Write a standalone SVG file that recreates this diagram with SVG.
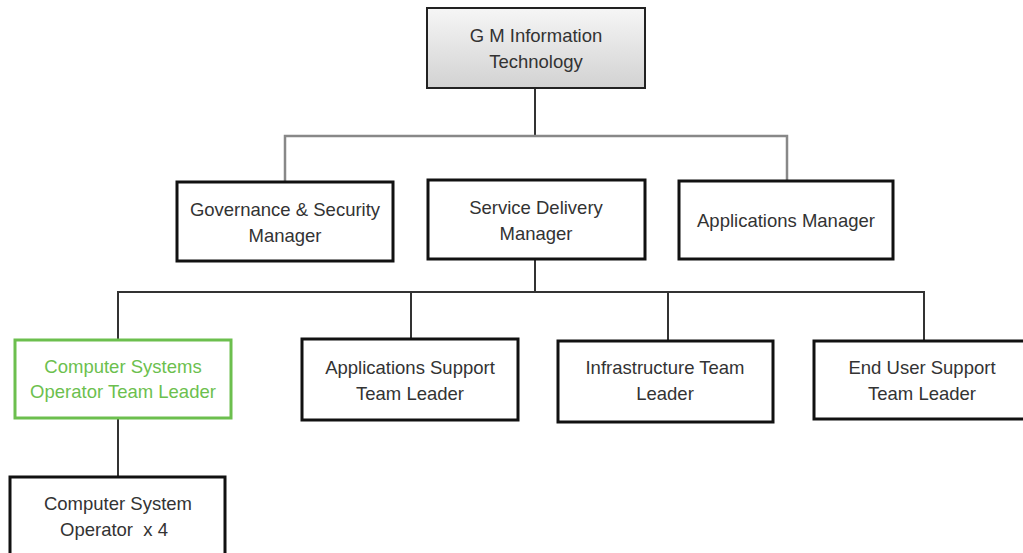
<svg xmlns="http://www.w3.org/2000/svg" width="1023" height="553" viewBox="0 0 1023 553">
<style>
.box{fill:#ffffff;stroke:#111111;stroke-width:3}
.top{fill:url(#g);stroke:#222222;stroke-width:2}
.green{fill:#ffffff;stroke:#6cbf4e;stroke-width:3}
text{font-family:"Liberation Sans",Arial,sans-serif;font-size:18.5px;fill:#333333;text-anchor:middle}
.gt{fill:#6cbf4e}
.c{fill:none;stroke:#333333;stroke-width:2}
.cg{fill:none;stroke:#888888;stroke-width:2.5}
</style>
<defs>
<linearGradient id="g" x1="0" y1="0" x2="0" y2="1">
<stop offset="0" stop-color="#f6f6f6"/>
<stop offset="1" stop-color="#d2d2d2"/>
</linearGradient>
</defs>
<rect x="0" y="0" width="1023" height="553" fill="#ffffff"/>
<g id="connectors">
<path class="c" d="M535 88 V136"/>
<path class="cg" d="M285 181 V136 H787 V181"/>
<path class="c" d="M535 259 V292"/>
<path class="c" d="M118 339 V292 H924 V340"/>
<path class="c" d="M411 292 V339"/>
<path class="c" d="M668 292 V341"/>
<path class="c" d="M118 418 V477"/>
</g>
<g id="gm">
<rect class="top" x="427" y="8" width="218" height="80"/>
<text x="536" y="41.5">G M Information</text>
<text x="536" y="67.5">Technology</text>
</g>
<g id="governance">
<rect class="box" x="177" y="182" width="216" height="79"/>
<text x="285" y="215.5">Governance &amp; Security</text>
<text x="285" y="241.5">Manager</text>
</g>
<g id="service">
<rect class="box" x="428" y="180" width="217" height="79"/>
<text x="536" y="213.5">Service Delivery</text>
<text x="536" y="239.5">Manager</text>
</g>
<g id="appmgr">
<rect class="box" x="679" y="181" width="214" height="78"/>
<text x="786" y="226.5">Applications Manager</text>
</g>
<g id="csotl">
<rect class="green" x="15" y="340" width="216" height="78"/>
<text class="gt" x="123" y="372.5">Computer Systems</text>
<text class="gt" x="123" y="397.5">Operator Team Leader</text>
</g>
<g id="apptl">
<rect class="box" x="302" y="339" width="216" height="81"/>
<text x="410" y="373.5">Applications Support</text>
<text x="410" y="399.5">Team Leader</text>
</g>
<g id="infra">
<rect class="box" x="558" y="341" width="215" height="81"/>
<text x="665" y="373.5">Infrastructure Team</text>
<text x="665" y="399.5">Leader</text>
</g>
<g id="enduser">
<rect class="box" x="814" y="341" width="220" height="78"/>
<text x="922" y="373.5">End User Support</text>
<text x="922" y="399.5">Team Leader</text>
</g>
<g id="cso">
<rect class="box" x="10" y="477" width="215" height="90"/>
<text x="118" y="509.5">Computer System</text>
<text x="114" y="535.5" xml:space="preserve">Operator  x 4</text>
</g>
</svg>
